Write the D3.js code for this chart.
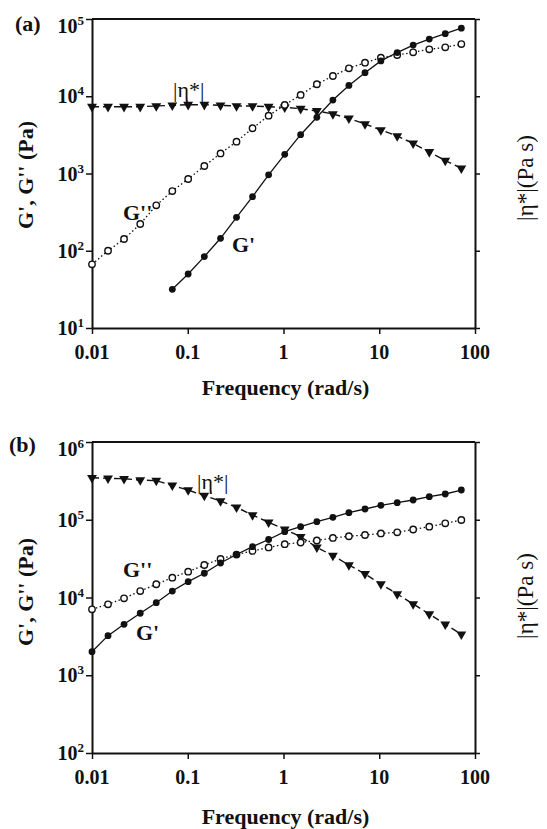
<!DOCTYPE html>
<html>
<head>
<meta charset="utf-8">
<script src="https://cdn.jsdelivr.net/npm/d3@7"></script>
<style>
  body { margin: 0; background: #fff; }
  svg text { font-family: "Liberation Serif", "DejaVu Serif", "Noto Serif", serif; fill: #111; }
</style>
</head>
<body>
<svg id="chart" width="547" height="829"></svg>
<script>
// angular frequency (rad/s), shared by both sweeps
const freq = [0.01, 0.0147, 0.0216, 0.0319, 0.0469, 0.069, 0.101, 0.149, 0.22, 0.323, 0.475, 0.699,
  1.03, 1.51, 2.23, 3.28, 4.82, 7.1, 10.4, 15.4, 22.6, 33.3, 48.9, 72];

// panel (a)
const gPrimeA = [null, null, null, null, null, 31.7, 50, 84, 145, 271, 501, 960,
  1770, 3180, 5340, 8930, 13800, 20200, 28700, 36800, 46000, 55000, 64500, 76000];
const gDoubleA = [66.7, 100, 142, 222, 387, 593, 849, 1250, 1820, 2580, 3850, 5600,
  7710, 10400, 14300, 18300, 23000, 27200, 31500, 34200, 37000, 40500, 43000, 47400];
const etaA = [7320, 7320, 7320, 7320, 7480, 7630, 7770, 7770, 7630, 7480, 7480, 7320,
  7190, 6900, 6450, 5890, 5180, 4370, 3660, 3060, 2450, 1900, 1470, 1170];

// panel (b)
const gPrimeB = [2010, 3230, 4520, 6270, 8570, 12100, 16000, 20500, 27800, 35700, 45000, 55700,
  70200, 81400, 94400, 107500, 123200, 137500, 153400, 165700, 179500, 197900, 214400, 241300];
const gDoubleB = [7050, 8180, 9770, 12100, 14800, 18000, 21500, 26200, 31300, 35700, 39700, 44000,
  48500, 51000, 54100, 58300, 61300, 63700, 66600, 69000, 74900, 81400, 90000, 99300];
const etaB = [347000, 341000, 337000, 324000, 318000, 277000, 241000, 204000, 174000, 144600, 115000, 92700,
  75400, 60500, 44200, 34500, 26200, 20100, 14900, 11100, 8250, 6130, 4520, 3360];

const xTicks = [0.01, 0.1, 1, 10, 100];
const xTickLabels = ["0.01", "0.1", "1", "10", "100"];
const yTicksA = [1e1, 1e2, 1e3, 1e4, 1e5];
const yTicksB = [1e2, 1e3, 1e4, 1e5, 1e6];

const svg = d3.select("#chart");
const ink = "#111";
const serif = '"Liberation Serif", "DejaVu Serif", "Noto Serif", serif';

const x = d3.scaleLog().domain([0.01, 100]).range([92, 475]);

function drawPanel(p) {
  const y = d3.scaleLog().domain(p.domain).range([p.bottom, p.top]);
  const g = svg.append("g").attr("font-family", serif);

  // top border
  g.append("line")
    .attr("x1", x.range()[0]).attr("x2", x.range()[1])
    .attr("y1", p.top).attr("y2", p.top)
    .attr("stroke", ink).attr("stroke-width", 2);

  const left = g.append("g")
    .attr("transform", `translate(${x.range()[0]},0)`)
    .call(d3.axisLeft(y).tickValues(p.yTicks).tickFormat("").tickSize(6).tickSizeOuter(0));
  const right = g.append("g")
    .attr("transform", `translate(${x.range()[1]},0)`)
    .call(d3.axisRight(y).tickValues(p.yTicks).tickFormat("").tickSize(5).tickSizeOuter(0));
  const bottom = g.append("g")
    .attr("transform", `translate(0,${p.bottom})`)
    .call(d3.axisBottom(x).tickValues(xTicks).tickFormat("").tickSize(6).tickSizeOuter(0));
  [left, right, bottom].forEach(a => {
    a.select(".domain").attr("stroke", ink).attr("stroke-width", 2);
    a.selectAll(".tick line").attr("stroke", ink).attr("stroke-width", 1.5);
  });

  // left tick labels as 10^n
  p.yTicks.forEach(v => {
    const t = g.append("text")
      .attr("x", x.range()[0] - 8)
      .attr("y", Math.max(y(v), p.top + 7) + 7)
      .attr("text-anchor", "end")
      .attr("font-weight", "bold");
    t.append("tspan").attr("font-size", 20).text("10");
    t.append("tspan").attr("font-size", 13).attr("dy", -8).text(Math.round(Math.log10(v)));
  });

  xTicks.forEach((v, i) => {
    g.append("text")
      .attr("x", x(v)).attr("y", p.bottom + 31)
      .attr("text-anchor", "middle")
      .attr("font-size", 20).attr("font-weight", "bold")
      .text(xTickLabels[i]);
  });

  g.append("text")
    .attr("x", (x.range()[0] + x.range()[1]) / 2 + 2).attr("y", p.bottom + p.titleGap)
    .attr("text-anchor", "middle")
    .attr("font-size", 22).attr("font-weight", "bold")
    .text("Frequency (rad/s)");

  g.append("text")
    .attr("transform", `translate(33,${p.leftLabelY}) rotate(-90)`)
    .attr("text-anchor", "middle")
    .attr("font-size", 22).attr("font-weight", "bold")
    .text("G', G'' (Pa)");

  g.append("text")
    .attr("transform", `translate(533,${p.rightLabelY}) rotate(-90)`)
    .attr("text-anchor", "middle")
    .attr("font-size", 23)
    .text("|η*|(Pa s)");

  g.append("text")
    .attr("x", p.tag[0]).attr("y", p.tag[1])
    .attr("font-size", 22).attr("font-weight", "bold")
    .text(p.tagText);

  // series
  const line = d3.line().x(d => x(d[0])).y(d => y(d[1]));
  const pts = vals => freq.map((f, i) => [f, vals[i]]).filter(d => d[1] != null);

  // |eta*| dashed with down triangles
  g.append("path").datum(pts(p.eta)).attr("d", line)
    .attr("fill", "none").attr("stroke", ink).attr("stroke-width", 1.4)
    .attr("stroke-dasharray", "7,4");
  g.selectAll(null).data(pts(p.eta)).join("path")
    .attr("d", d3.symbol(d3.symbolTriangle, 42))
    .attr("transform", d => `translate(${x(d[0])},${y(d[1])}) rotate(180)`)
    .attr("fill", ink);

  // G'' dotted, open circles
  g.append("path").datum(pts(p.gDouble)).attr("d", line)
    .attr("fill", "none").attr("stroke", ink).attr("stroke-width", 1.3)
    .attr("stroke-dasharray", "1.5,2.5");
  g.selectAll(null).data(pts(p.gDouble)).join("circle")
    .attr("cx", d => x(d[0])).attr("cy", d => y(d[1])).attr("r", 3.2)
    .attr("fill", "#fff").attr("stroke", ink).attr("stroke-width", 1.4);

  // G' solid, filled circles
  g.append("path").datum(pts(p.gPrime)).attr("d", line)
    .attr("fill", "none").attr("stroke", ink).attr("stroke-width", 1.3);
  g.selectAll(null).data(pts(p.gPrime)).join("circle")
    .attr("cx", d => x(d[0])).attr("cy", d => y(d[1])).attr("r", 3.4)
    .attr("fill", ink);

  // series annotations
  p.notes.forEach(n => {
    g.append("text")
      .attr("x", n.x).attr("y", n.y)
      .attr("font-size", 22)
      .attr("font-weight", n.bold ? "bold" : "normal")
      .text(n.text);
  });
}

drawPanel({
  domain: [1e1, 1e5], top: 19, bottom: 328, yTicks: yTicksA,
  gPrime: gPrimeA, gDouble: gDoubleA, eta: etaA,
  titleGap: 67, leftLabelY: 175, rightLabelY: 178,
  tag: [15, 31], tagText: "(a)",
  notes: [
    { text: "|η*|", x: 173, y: 97, bold: false },
    { text: "G''", x: 123, y: 220, bold: true },
    { text: "G'", x: 232, y: 252, bold: true }
  ]
});

drawPanel({
  domain: [1e2, 1e6], top: 442, bottom: 753, yTicks: yTicksB,
  gPrime: gPrimeB, gDouble: gDoubleB, eta: etaB,
  titleGap: 71, leftLabelY: 592, rightLabelY: 596,
  tag: [9, 452], tagText: "(b)",
  notes: [
    { text: "|η*|", x: 197, y: 489, bold: false },
    { text: "G''", x: 123, y: 577, bold: true },
    { text: "G'", x: 136, y: 640, bold: true }
  ]
});
</script>
</body>
</html>
